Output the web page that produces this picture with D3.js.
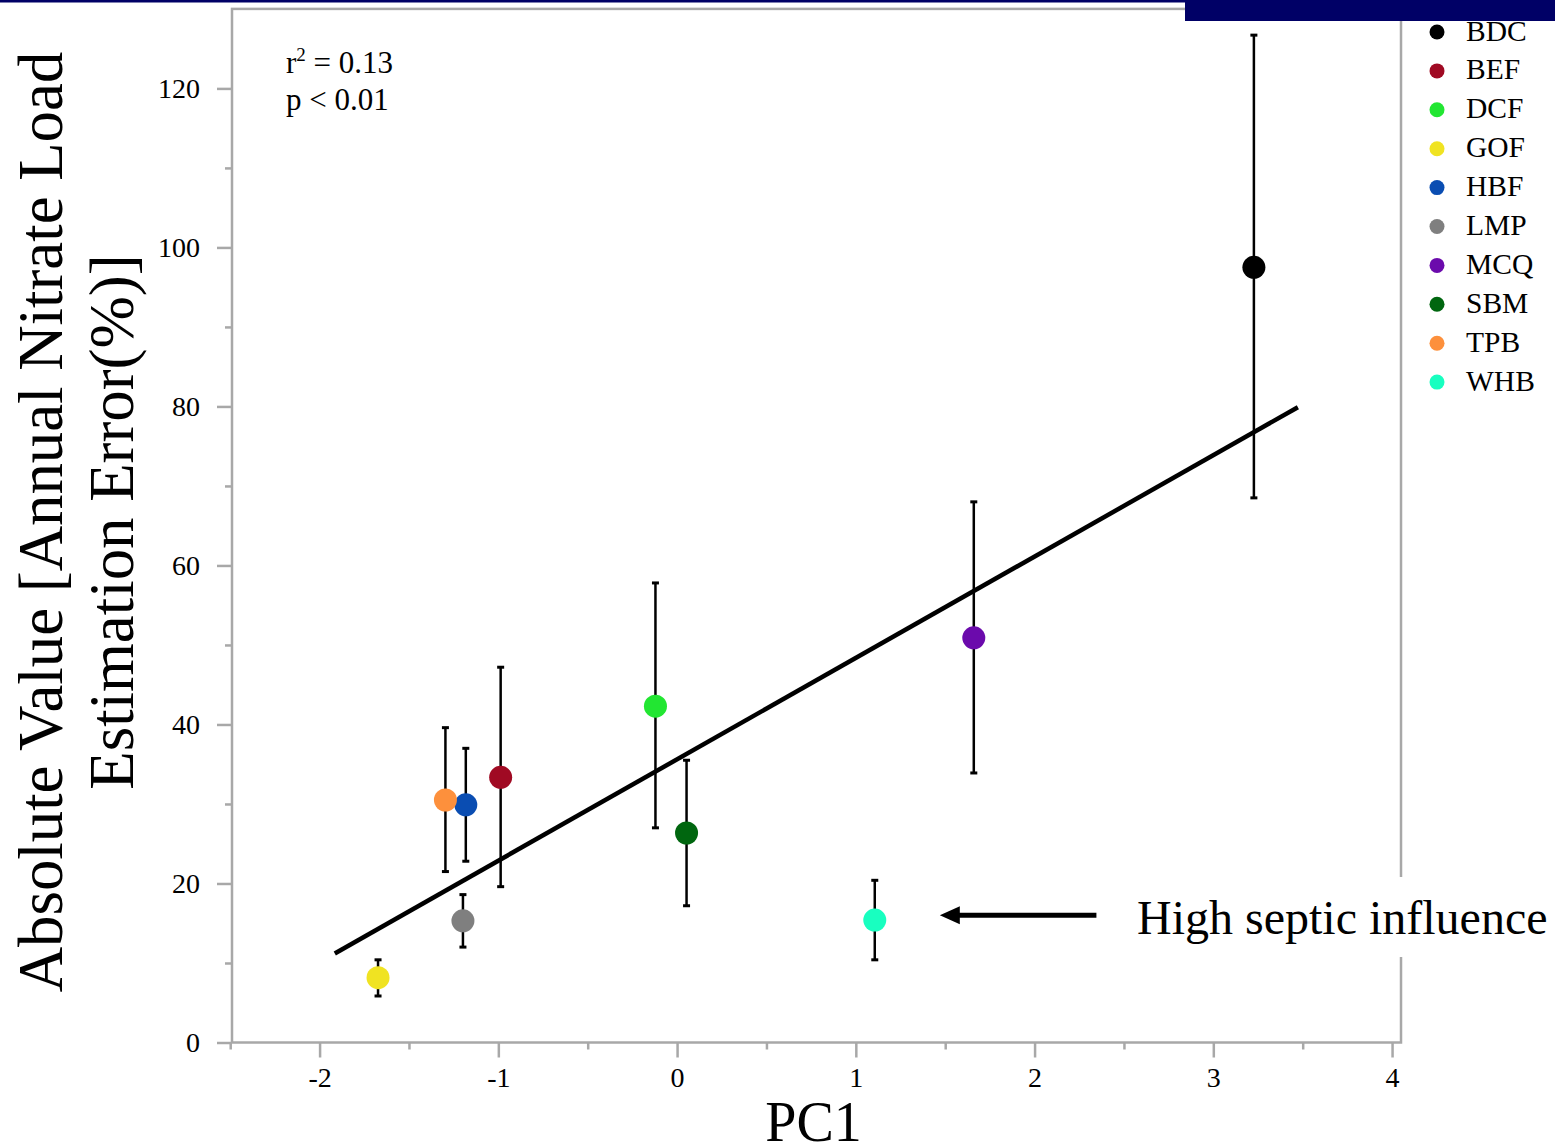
<!DOCTYPE html>
<html>
<head>
<meta charset="utf-8">
<script src="https://cdn.jsdelivr.net/npm/d3@7"></script>
<style>
  body { margin: 0; background: #fff; }
  svg { display: block; font-family: "Liberation Serif", "Times New Roman", serif; }
</style>
</head>
<body>
<div id="container"></div>
<script>
const sites = ["BDC", "BEF", "DCF", "GOF", "HBF", "LMP", "MCQ", "SBM", "TPB", "WHB"];
const siteColors = ["#000000", "#a00a23", "#22e632", "#f0e322", "#0a4db2", "#7f7f7f", "#6b0aac", "#00660f", "#fd903c", "#18ffc0"];
const pc1 = [3.227, -0.987, -0.121, -1.673, -1.182, -1.198, 1.660, 0.053, -1.296, 1.106];
const errorPct = [97.5, 33.35, 42.3, 8.15, 29.9, 15.3, 50.9, 26.35, 30.5, 15.4];
const errorLow = [68.5, 19.6, 27.0, 5.85, 22.8, 12.0, 33.9, 17.2, 21.5, 10.4];
const errorHigh = [126.7, 47.2, 57.8, 10.4, 37.0, 18.6, 68.0, 35.5, 39.6, 20.4];
const fitX = [-1.915, 3.473];
const fitY = [11.2, 79.9];
const xTicks = [-2, -1, 0, 1, 2, 3, 4];
const xMinorTicks = [-2.5, -1.5, -0.5, 0.5, 1.5, 2.5, 3.5];
const yTicks = [0, 20, 40, 60, 80, 100, 120];
const yMinorTicks = [10, 30, 50, 70, 90, 110];

const W = 1555, H = 1148;
const padL = 232, padR = 1401, padT = 8.9, padB = 1042.5;
const gray = "#a8a8a8";
const navy = "#000066";
const serif = "'Liberation Serif', 'Times New Roman', serif";

const points = sites.map((s, i) => ({
  site: s, color: siteColors[i], x: pc1[i], y: errorPct[i], lo: errorLow[i], hi: errorHigh[i]
}));

const svg = d3.select("#container").append("svg")
  .attr("width", W).attr("height", H);

const x = d3.scaleLinear().domain([-2.49, 4.05]).range([padL, padR]);
const y = d3.scaleLinear().domain([0, 130]).range([padB, padT]);

// frame
svg.append("rect")
  .attr("x", padL).attr("y", padT)
  .attr("width", padR - padL).attr("height", padB - padT)
  .attr("fill", "none").attr("stroke", gray).attr("stroke-width", 2.5);

function styleAxis(g) {
  g.attr("font-family", serif).attr("font-size", 28);
  g.select(".domain").remove();
  g.selectAll(".tick line").attr("stroke", gray).attr("stroke-width", 2.5);
  g.selectAll(".tick text").attr("fill", "#000");
}

svg.append("g").attr("transform", `translate(0,${padB})`)
  .call(d3.axisBottom(x).tickValues(xMinorTicks).tickSize(7).tickFormat(""))
  .call(styleAxis);
svg.append("g").attr("transform", `translate(0,${padB})`)
  .call(d3.axisBottom(x).tickValues(xTicks).tickSize(15).tickPadding(10))
  .call(styleAxis)
  .call(g => g.selectAll(".tick text").text(d => String(d)));

svg.append("g").attr("transform", `translate(${padL},0)`)
  .call(d3.axisLeft(y).tickValues(yMinorTicks).tickSize(7).tickFormat(""))
  .call(styleAxis);
svg.append("g").attr("transform", `translate(${padL},0)`)
  .call(d3.axisLeft(y).tickValues(yTicks).tickSize(15).tickPadding(17))
  .call(styleAxis);

// error bars
const bars = svg.append("g");
bars.selectAll("line.stem").data(points).join("line")
  .attr("class", "stem")
  .attr("x1", d => x(d.x)).attr("x2", d => x(d.x))
  .attr("y1", d => y(d.lo)).attr("y2", d => y(d.hi))
  .attr("stroke", "#000").attr("stroke-width", 2.5);
["lo", "hi"].forEach(k => {
  bars.selectAll("line.cap-" + k).data(points).join("line")
    .attr("class", "cap-" + k)
    .attr("x1", d => x(d.x) - 3.5).attr("x2", d => x(d.x) + 3.5)
    .attr("y1", d => y(d[k])).attr("y2", d => y(d[k]))
    .attr("stroke", "#000").attr("stroke-width", 3);
});

// regression line
svg.append("line")
  .attr("x1", x(fitX[0])).attr("y1", y(fitY[0]))
  .attr("x2", x(fitX[1])).attr("y2", y(fitY[1]))
  .attr("stroke", "#000").attr("stroke-width", 4.5);

// points
svg.append("g").selectAll("circle").data(points).join("circle")
  .attr("cx", d => x(d.x)).attr("cy", d => y(d.y))
  .attr("r", 11.5).attr("fill", d => d.color);

// stats
svg.append("text").attr("x", 286).attr("y", 72.5).style("font-size", "31px")
  .html('r<tspan dy="-12" style="font-size:19px">2</tspan><tspan dy="12"> = 0.13</tspan>');
svg.append("text").attr("x", 286).attr("y", 110).style("font-size", "31px")
  .text("p < 0.01");

// annotation
svg.append("rect").attr("x", 1124).attr("y", 877).attr("width", 431).attr("height", 80).attr("fill", "#fff");
svg.append("line")
  .attr("x1", x(2.346)).attr("x2", x(1.47) + 16)
  .attr("y1", y(16.0)).attr("y2", y(16.0))
  .attr("stroke", "#000").attr("stroke-width", 5);
svg.append("path")
  .attr("d", `M${x(1.47)},${y(16.0)} l20,-9 l0,18 z`)
  .attr("fill", "#000");
svg.append("text").attr("x", 1137).attr("y", 934).style("font-size", "48px")
  .text("High septic influence");

// axis titles
svg.append("text").attr("x", (padL + padR) / 2 - 3).attr("y", 1141)
  .attr("text-anchor", "middle").style("font-size", "56px").text("PC1");
const yl = svg.append("g").attr("transform", "translate(0,522) rotate(-90)");
yl.append("text").attr("x", 0).attr("y", 62).attr("text-anchor", "middle")
  .style("font-size", "62.8px").text("Absolute Value [Annual Nitrate Load");
yl.append("text").attr("x", 0).attr("y", 133).attr("text-anchor", "middle")
  .style("font-size", "62.8px").text("Estimation Error(%)]");

// legend
const legend = svg.append("g").selectAll("g").data(points).join("g")
  .attr("transform", (d, i) => `translate(1437,${32 + i * 38.9})`);
legend.append("circle").attr("r", 7.5).attr("fill", d => d.color);
legend.append("text").attr("x", 29).attr("y", 8.5).style("font-size", "29.5px").text(d => d.site);

// top banner
svg.append("rect").attr("x", 0).attr("y", 0).attr("width", W).attr("height", 2.5).attr("fill", navy);
svg.append("rect").attr("x", 1185).attr("y", 0).attr("width", W - 1185).attr("height", 21).attr("fill", navy);
</script>
</body>
</html>
